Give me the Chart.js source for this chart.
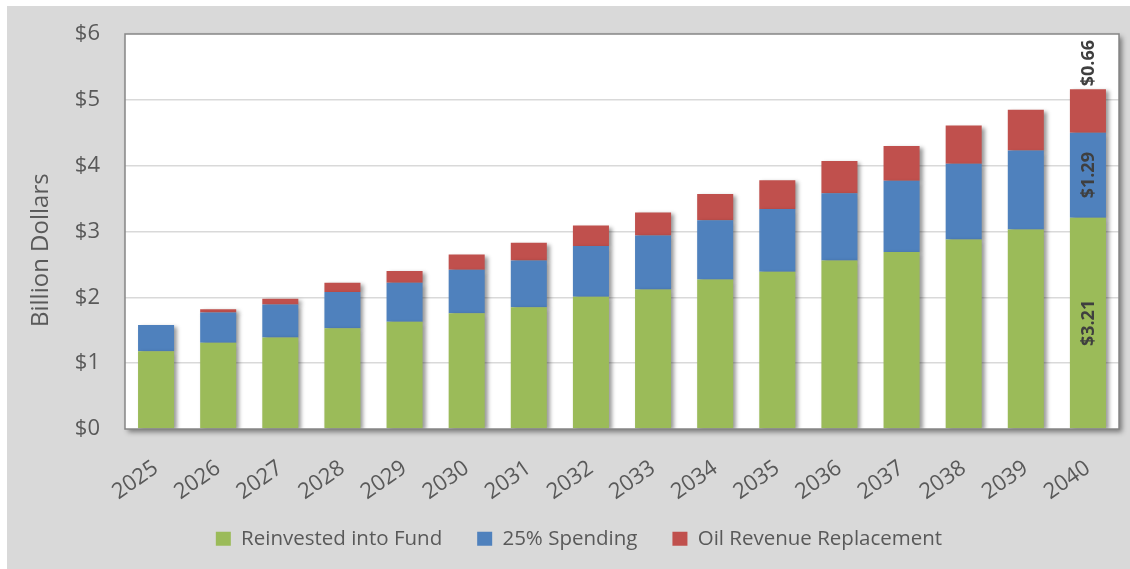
<!DOCTYPE html>
<html lang="en">
<head>
<meta charset="UTF-8">
<title>Billion Dollars, 2025-2040</title>
<script src="https://cdn.jsdelivr.net/npm/chart.js"></script>
<style>
  body { margin: 0; background: #ffffff; }
  .frame {
    position: absolute;
    left: 7px;
    top: 6px;
    width: 1123px;
    height: 563px;
    background: #d9d9d9;
  }
</style>
</head>
<body>
<div class="frame"><canvas id="fundChart"></canvas></div>
<script>
const years = ['2025', '2026', '2027', '2028', '2029', '2030', '2031', '2032',
               '2033', '2034', '2035', '2036', '2037', '2038', '2039', '2040'];
const reinvested = [1.18, 1.31, 1.39, 1.53, 1.63, 1.76, 1.85, 2.01,
                    2.12, 2.27, 2.39, 2.56, 2.69, 2.88, 3.03, 3.21];
const spending = [0.40, 0.46, 0.50, 0.55, 0.59, 0.66, 0.71, 0.77,
                  0.82, 0.90, 0.95, 1.02, 1.08, 1.15, 1.20, 1.29];
const oilReplacement = [0.00, 0.05, 0.09, 0.14, 0.18, 0.23, 0.27, 0.31,
                        0.35, 0.40, 0.44, 0.49, 0.53, 0.58, 0.62, 0.66];
const yTicks = [0, 1, 2, 3, 4, 5, 6];
const seriesNames = ['Reinvested into Fund', '25% Spending', 'Oil Revenue Replacement'];
const labelledYear = '2040';

const textGrey = '#595959';
const font = "'Open Sans', 'Noto Sans', sans-serif";

// white plot area with a soft drop shadow, grey frame on top
const plotFrame = {
  id: 'plotFrame',
  afterLayout(chart) {
    // year labels hang down past the axis box; don't let them be clipped
    chart.scales.x.bottom = chart.height;
  },
  beforeDraw(chart) {
    const {ctx, chartArea: a} = chart;
    ctx.save();
    ctx.shadowColor = 'rgba(0,0,0,0.45)';
    ctx.shadowBlur = 5;
    ctx.shadowOffsetX = 3;
    ctx.shadowOffsetY = 3;
    ctx.fillStyle = '#ffffff';
    ctx.fillRect(a.left, a.top, a.right - a.left, a.bottom - a.top);
    ctx.restore();
  },
  afterDatasetsDraw(chart) {
    const {ctx, chartArea: a} = chart;
    ctx.save();
    ctx.strokeStyle = '#868686';
    ctx.lineWidth = 1.5;
    ctx.strokeRect(a.left, a.top, a.right - a.left, a.bottom - a.top);
    ctx.restore();
  }
};

const barShadow = {
  id: 'barShadow',
  beforeDatasetDraw(chart) {
    const ctx = chart.ctx;
    ctx.save();
    ctx.shadowColor = 'rgba(0,0,0,0.4)';
    ctx.shadowBlur = 4;
    ctx.shadowOffsetX = 3;
    ctx.shadowOffsetY = 2;
  },
  afterDatasetDraw(chart) {
    chart.ctx.restore();
  }
};

// rotated value labels on the last bar
const valueLabels = {
  id: 'valueLabels',
  afterDraw(chart) {
    const {ctx} = chart;
    const idx = chart.data.labels.indexOf(labelledYear);
    ctx.save();
    ctx.font = "bold 18px " + font;
    ctx.fillStyle = '#3f3f3f';
    ctx.textBaseline = 'middle';
    chart.data.datasets.forEach((ds, i) => {
      const bar = chart.getDatasetMeta(i).data[idx];
      const {x, y, base} = bar.getProps(['x', 'y', 'base'], true);
      const text = '$' + ds.data[idx].toFixed(2);
      ctx.save();
      if (i < chart.data.datasets.length - 1) {
        ctx.translate(x, (y + base) / 2);
        ctx.rotate(-Math.PI / 2);
        ctx.textAlign = 'center';
      } else {
        ctx.translate(x, y - 3);
        ctx.rotate(-Math.PI / 2);
        ctx.textAlign = 'left';
      }
      ctx.fillText(text, 0, 1);
      ctx.restore();
    });
    ctx.restore();
  }
};

// keep the plot area where the layout padding puts it
function noScalePadding(scale) {
  scale.paddingTop = 0;
  scale.paddingBottom = 0;
  scale.paddingLeft = 0;
  scale.paddingRight = 0;
}

new Chart(document.getElementById('fundChart'), {
  type: 'bar',
  data: {
    labels: years,
    datasets: [
      { label: seriesNames[0], data: reinvested, backgroundColor: '#9bbb59' },
      { label: seriesNames[1], data: spending, backgroundColor: '#4f81bd' },
      { label: seriesNames[2], data: oilReplacement, backgroundColor: '#c0504d' }
    ]
  },
  options: {
    responsive: true,
    maintainAspectRatio: false,
    animation: false,
    barPercentage: 0.58,
    categoryPercentage: 1,
    layout: { padding: { top: 28, right: 11, bottom: 10, left: 32 } },
    plugins: {
      legend: {
        position: 'bottom',
        labels: {
          boxWidth: 15,
          boxHeight: 14,
          padding: 35,
          color: textGrey,
          font: { family: font, size: 20.5 }
        }
      },
      tooltip: { enabled: false }
    },
    scales: {
      x: {
        stacked: true,
        grid: { display: false, drawTicks: false },
        border: { display: false },
        ticks: {
          autoSkip: false,
          minRotation: 35,
          maxRotation: 35,
          padding: 26,
          color: textGrey,
          font: { family: font, size: 22 }
        },
        afterFit(scale) {
          scale.height = 64.5;
          noScalePadding(scale);
        }
      },
      y: {
        stacked: true,
        min: yTicks[0],
        max: yTicks[yTicks.length - 1],
        grid: {
          color: (c) => (c.tick && c.tick.value > yTicks[0] && c.tick.value < yTicks[yTicks.length - 1]) ? '#d9d9d9' : 'rgba(0,0,0,0)',
          lineWidth: 1.5,
          drawTicks: false
        },
        border: { display: false },
        afterBuildTicks(scale) { scale.ticks = yTicks.map(v => ({ value: v })); },
        ticks: {
          padding: 25,
          color: textGrey,
          font: { family: font, size: 22 },
          callback: (v) => '$' + v
        },
        title: {
          display: true,
          // trailing spaces push the title a little below the plot centre, as in the source
          text: 'Billion Dollars      ',
          color: textGrey,
          padding: { top: -12, bottom: 0 },
          font: { family: font, size: 24 }
        },
        afterFit(scale) {
          scale.width = 86;
          noScalePadding(scale);
        }
      }
    }
  },
  plugins: [plotFrame, barShadow, valueLabels]
});
</script>
</body>
</html>
